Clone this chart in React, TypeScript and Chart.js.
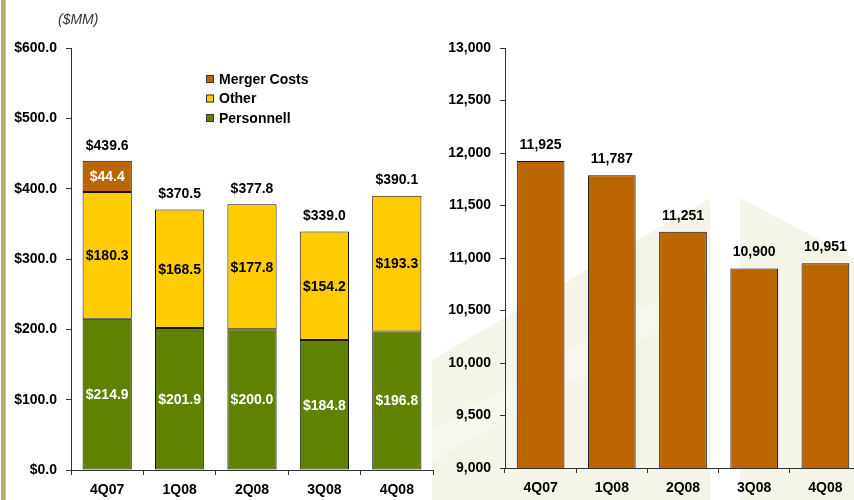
import React, { useEffect, useRef } from "react";
import { Chart, registerables } from "chart.js";

Chart.register(...registerables);

const categories = ["4Q07", "1Q08", "2Q08", "3Q08", "4Q08"];
const personnel = [214.9, 201.9, 200.0, 184.8, 196.8];
const other = [180.3, 168.5, 177.8, 154.2, 193.3];
const merger = [44.4, null, null, null, null];
const totals = [439.6, 370.5, 377.8, 339.0, 390.1];
const headcount = [11925, 11787, 11251, 10900, 10951];
const legendLabels = ["Merger Costs", "Other", "Personnell"];
const unitLabel = "($MM)";

const GREEN = "#618100";
const YELLOW = "#FFCC00";
const ORANGE = "#BB6600";
const LINE = "#333333";
const BAR_EDGE = "#151515";
const FONT = "'Liberation Sans', Arial, sans-serif";

const costLabelsPlugin = {
  id: "costLabels",
  afterDatasetsDraw(chart: any) {
    const ctx = chart.ctx;
    ctx.save();
    ctx.font = `bold 14px ${FONT}`;
    ctx.textAlign = "center";
    ctx.textBaseline = "middle";
    const colors = ["#ffffff", "#000000", "#ffffff"];
    chart.data.datasets.forEach((ds: any, di: number) => {
      const meta = chart.getDatasetMeta(di);
      meta.data.forEach((el: any, i: number) => {
        const v = ds.data[i];
        if (v === null || v === undefined) return;
        const y = (el.y + el.base) / 2;
        ctx.fillStyle = colors[di];
        ctx.fillText("$" + v.toFixed(1), el.x, y + 1);
      });
    });
    const yScale = chart.scales.y;
    const meta0 = chart.getDatasetMeta(0);
    totals.forEach((t, i) => {
      const x = meta0.data[i].x;
      const y = yScale.getPixelForValue(t);
      ctx.fillStyle = "#000000";
      ctx.fillText("$" + t.toFixed(1), x, y - 15);
    });
    // unit label
    ctx.font = `italic 14px ${FONT}`;
    ctx.textAlign = "left";
    ctx.fillStyle = "#333333";
    ctx.fillText(unitLabel, 58, 20);
    // legend
    const legendColors = [ORANGE, YELLOW, GREEN];
    const legendY = [79, 98.5, 118];
    ctx.font = `bold 14px ${FONT}`;
    legendLabels.forEach((lab, i) => {
      ctx.fillStyle = legendColors[i];
      ctx.fillRect(206, legendY[i] - 4, 8, 8);
      ctx.strokeStyle = LINE;
      ctx.lineWidth = 1;
      ctx.strokeRect(206.5, legendY[i] - 3.5, 7, 7);
      ctx.fillStyle = "#000000";
      ctx.fillText(lab, 219, legendY[i] + 1);
    });
    ctx.restore();
  },
};

const headLabelsPlugin = {
  id: "headLabels",
  afterDatasetsDraw(chart: any) {
    const ctx = chart.ctx;
    ctx.save();
    ctx.font = `bold 14px ${FONT}`;
    ctx.textAlign = "center";
    ctx.textBaseline = "middle";
    ctx.fillStyle = "#000000";
    const meta = chart.getDatasetMeta(0);
    meta.data.forEach((el: any, i: number) => {
      ctx.fillText(headcount[i].toLocaleString("en-US"), el.x, el.y - 16);
    });
    ctx.restore();
  },
};

function commonScales(yOpts: any, yWidth: number, xHeight: number, xPad: number) {
  return {
    x: {
      offset: true,
      grid: {
        offset: true,
        drawOnChartArea: false,
        tickLength: 5,
        color: LINE,
      },
      border: { color: LINE, width: 1 },
      ticks: {
        color: "#000000",
        font: { family: FONT, size: 14, weight: "bold" },
        padding: xPad,
        maxRotation: 0,
      },
      afterFit(scale: any) {
        scale.height = xHeight;
      },
    },
    y: {
      ...yOpts,
      grid: {
        drawOnChartArea: false,
        tickLength: 5,
        color: LINE,
      },
      border: { color: LINE, width: 1 },
      afterFit(scale: any) {
        scale.width = yWidth;
      },
    },
  };
}

export default function App() {
  const leftRef = useRef<HTMLCanvasElement>(null);
  const rightRef = useRef<HTMLCanvasElement>(null);

  useEffect(() => {
    const barStyle = {
      borderColor: BAR_EDGE,
      borderWidth: 1,
      borderSkipped: false,
      barPercentage: 0.68,
      categoryPercentage: 1,
    };
    const left = new Chart(leftRef.current as HTMLCanvasElement, {
      type: "bar",
      data: {
        labels: categories,
        datasets: [
          { label: "Personnell", data: personnel, backgroundColor: GREEN, ...barStyle },
          { label: "Other", data: other, backgroundColor: YELLOW, ...barStyle },
          { label: "Merger Costs", data: merger as any, backgroundColor: ORANGE, ...barStyle },
        ] as any,
      },
      options: {
        responsive: false,
        animation: false,
        layout: { padding: { top: 48, right: 7, left: 0, bottom: 0 } },
        plugins: { legend: { display: false }, tooltip: { enabled: false } },
        scales: {
          ...commonScales(
            {
              stacked: true,
              min: 0,
              max: 600,
              ticks: {
                stepSize: 100,
                padding: 9,
                color: "#000000",
                font: { family: FONT, size: 14, weight: "bold" },
                callback: (v: any) => "$" + Number(v).toFixed(1),
              },
            },
            71,
            30,
            7
          ),
          x: {
            ...commonScales({}, 71, 30, 7).x,
            stacked: true,
          },
        } as any,
      },
      plugins: [costLabelsPlugin],
    });

    const right = new Chart(rightRef.current as HTMLCanvasElement, {
      type: "bar",
      data: {
        labels: categories,
        datasets: [
          {
            label: "Headcount",
            data: headcount,
            backgroundColor: ORANGE,
            ...barStyle,
            barPercentage: 0.67,
          },
        ] as any,
      },
      options: {
        responsive: false,
        animation: false,
        layout: { padding: { top: 48, right: 9, left: 0, bottom: 0 } },
        plugins: { legend: { display: false }, tooltip: { enabled: false } },
        scales: commonScales(
          {
            min: 9000,
            max: 13000,
            ticks: {
              stepSize: 500,
              padding: 9,
              color: "#000000",
              font: { family: FONT, size: 14, weight: "bold" },
              callback: (v: any) => Number(v).toLocaleString("en-US"),
            },
          },
          65,
          32,
          7
        ) as any,
      },
      plugins: [headLabelsPlugin],
    });

    return () => {
      left.destroy();
      right.destroy();
    };
  }, []);

  return (
    <div
      style={{
        position: "absolute",
        left: 0,
        top: 0,
        width: 854,
        height: 500,
        overflow: "hidden",
        background: "#ffffff",
      }}
    >
      <svg
        width={854}
        height={500}
        style={{ position: "absolute", left: 0, top: 0 }}
      >
        <polygon points="432,360 710,198 710,500 432,500" fill="#F4F4E8" />
        <polygon points="432,430 710,268 710,300 432,462" fill="#F7F7EF" />
        <polygon points="740,198 854,258 854,500 740,500" fill="#F4F4E8" />
        <rect x={1} y={0} width={5} height={500} fill="#B3AD68" />
        <rect x={5} y={0} width={1} height={500} fill="#D6D2A4" />
      </svg>
      <canvas
        ref={leftRef}
        width={440}
        height={500}
        style={{ position: "absolute", left: 0, top: 0 }}
      />
      <canvas
        ref={rightRef}
        width={430}
        height={500}
        style={{ position: "absolute", left: 440, top: 0 }}
      />
    </div>
  );
}
